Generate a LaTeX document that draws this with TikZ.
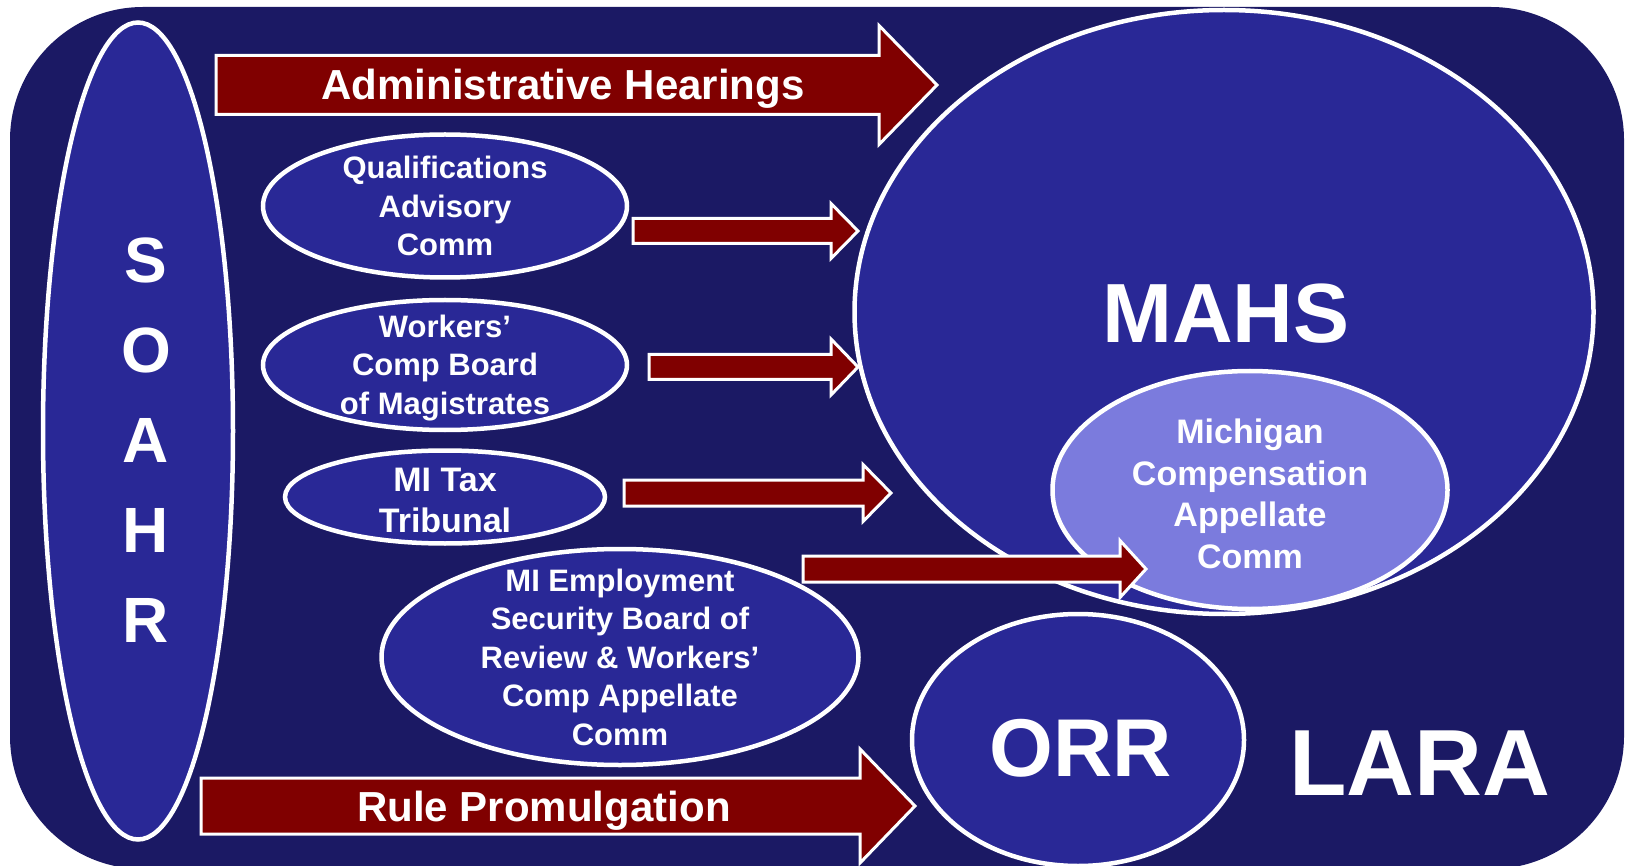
\documentclass[tikz,border=0pt]{standalone}
\usepackage{fontspec}
\setmainfont{Liberation Sans}
\usetikzlibrary{shapes.geometric}

\definecolor{laranavy}{HTML}{1B1964}
\definecolor{unitblue}{HTML}{292896}
\definecolor{unitlight}{HTML}{7B7BDD}
\definecolor{arrowred}{HTML}{800000}

\tikzset{
  unit/.style={ellipse, draw=white, line width=4.5pt, fill=unitblue, inner sep=0pt},
  unitlabel/.style={text=white, align=center, font=\bfseries\fontsize{31}{38.5}\selectfont},
  biglabel/.style={text=white, font=\bfseries\fontsize{#1}{#1}\selectfont},
  arrowbody/.style={fill=arrowred, draw=white, line width=3pt, line join=miter}
}

% tail x, centre y, head base x, tip x, shaft half height, head half height
\newcommand{\fatarrow}[6]{%
  \draw[arrowbody] (#1,#2-#5) -- (#3,#2-#5) -- (#3,#2-#6) -- (#4,#2)
    -- (#3,#2+#6) -- (#3,#2+#5) -- (#1,#2+#5) -- cycle;}

\begin{document}
\begin{tikzpicture}[x=1pt, y=-1pt]
    \useasboundingbox (0,0) rectangle (1625,866);
    \fill[laranavy, rounded corners=133pt] (10,7) rectangle (1624,869);

    % the two big offices
    \node[unit, minimum width=190pt, minimum height=817pt] (soahr) at (138,431) {};
    \node[unit, minimum width=739pt, minimum height=604pt] (mahs) at (1224,312) {};
    \node[unit, fill=unitlight, minimum width=395pt, minimum height=238pt] (mcac) at (1250,490) {};
    \node[unit, minimum width=332pt, minimum height=252pt] (orr) at (1078,740) {};

    % boards and commissions
    \node[unit, minimum width=364pt, minimum height=143pt] (qac) at (445,206) {};
    \node[unit, minimum width=364pt, minimum height=130pt] (wcbm) at (445,365) {};
    \node[unit, minimum width=320pt, minimum height=93pt] (tax) at (445,497) {};
    \node[unit, minimum width=477pt, minimum height=216pt] (mesb) at (620,657) {};

    % transfers
    \fatarrow{216}{85}{879}{937}{29.5}{59.5}
    \fatarrow{633}{231}{831}{858}{12.5}{27.5}
    \fatarrow{649}{367}{831}{858}{12.5}{28}
    \fatarrow{624}{493}{863}{891}{13}{28.5}
    \fatarrow{803}{569}{1120}{1146}{13}{28.5}
    \fatarrow{201}{806}{860}{915}{28}{57}

    \node[biglabel=42, anchor=base] (admin-text) at (563,99.5) {Administrative Hearings};
    \node[biglabel=42, anchor=base] (rule-text) at (544,821) {Rule Promulgation};

    \node[unitlabel] (qac-text) at (qac) {Qualifications\\Advisory\\Comm};
    \node[unitlabel] (wcbm-text) at (445,368) {Workers’\\Comp Board\\of Magistrates};
    \node[unitlabel, font=\bfseries\fontsize{34}{41}\selectfont] (tax-text) at (445,500) {MI Tax\\Tribunal};
    \node[unitlabel] (mesb-text) at (mesb) {MI Employment\\Security Board of\\Review \& Workers’\\Comp Appellate\\Comm};
    \node[unitlabel, font=\bfseries\fontsize{34}{41.5}\selectfont] (mcac-text) at (1250,494) {Michigan\\Compensation\\Appellate\\Comm};

    \node[unitlabel, font=\bfseries\fontsize{64}{90}\selectfont] (soahr-text) at (146,440) {S\\O\\A\\H\\R};
    \node[biglabel=84] (mahs-text) at (1226,314) {MAHS};
    \node[biglabel=82] (orr-text) at (1081,748) {ORR};
    \node[biglabel=94] (lara-text) at (1420,763) {LARA};
\end{tikzpicture}
\end{document}
